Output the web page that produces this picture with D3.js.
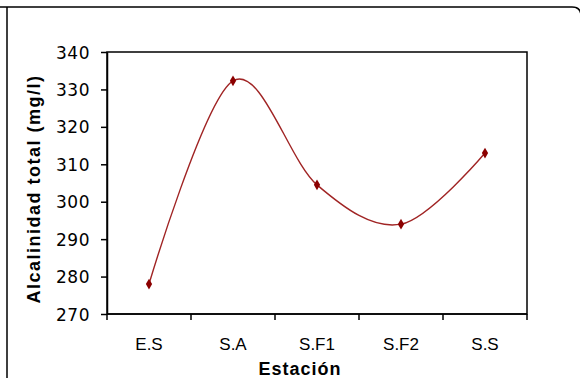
<!DOCTYPE html>
<html>
<head>
<meta charset="utf-8">
<script src="https://cdn.jsdelivr.net/npm/d3@7"></script>
<style>
  html, body { margin: 0; padding: 0; background: #fff; }
  svg { display: block; }
  text { font-family: "Liberation Sans", Arial, sans-serif; fill: #000; }
</style>
</head>
<body>
<svg id="chart" width="580" height="378"></svg>
<script>
// Sampling stations and total alkalinity (mg/l)
const estaciones = ["E.S", "S.A", "S.F1", "S.F2", "S.S"];
const alcalinidad = [278, 332.3, 304.5, 294, 313];
const yTicks = [270, 280, 290, 300, 310, 320, 330, 340];

const svg = d3.select("#chart");
const plot = { left: 107, top: 52, right: 527, bottom: 314 };

// Outer chart frame: square top-left, rounded top-right, runs past the bottom edge
svg.append("path")
  .attr("d", "M0,7 H572 Q581,7 581,16 V390 M7,7 V390")
  .attr("fill", "none")
  .attr("stroke", "#000")
  .attr("stroke-width", 1.5);

const x = d3.scaleBand().domain(estaciones).range([plot.left, plot.right]);
const y = d3.scaleLinear().domain([270, 340]).range([plot.bottom, plot.top]);

// Plot area border
svg.append("rect")
  .attr("x", plot.left).attr("y", plot.top)
  .attr("width", plot.right - plot.left).attr("height", plot.bottom - plot.top)
  .attr("fill", "none").attr("stroke", "#000").attr("stroke-width", 1.5);

// Y axis
const yAxis = svg.append("g")
  .attr("transform", `translate(${plot.left},0)`)
  .call(d3.axisLeft(y).tickValues(yTicks).tickSize(6).tickSizeOuter(0).tickPadding(11));
yAxis.select(".domain").attr("stroke-width", 1.5);
yAxis.selectAll(".tick line").attr("stroke-width", 1.5);
yAxis.selectAll(".tick text")
  .style("font-family", "'DejaVu Sans', sans-serif")
  .style("font-size", "17px")
  .style("letter-spacing", "0.5px")
  .attr("dy", "0.36em");

// X axis: ticks sit on the category boundaries
const xAxis = svg.append("g").attr("transform", `translate(0,${plot.bottom})`);
xAxis.append("line")
  .attr("x1", plot.left).attr("x2", plot.right)
  .attr("stroke", "#000").attr("stroke-width", 1.5);
const bounds = estaciones.map(d => x(d)).concat([x(estaciones[estaciones.length - 1]) + x.bandwidth()]);
xAxis.selectAll("line.tick").data(bounds).join("line")
  .attr("class", "tick")
  .attr("x1", d => d).attr("x2", d => d)
  .attr("y1", 0).attr("y2", 6)
  .attr("stroke", "#000").attr("stroke-width", 1.5);
xAxis.selectAll("text").data(estaciones).join("text")
  .attr("x", d => x(d) + x.bandwidth() / 2)
  .attr("y", 36)
  .attr("text-anchor", "middle")
  .style("font-size", "17px")
  .text(d => d);

// Axis titles
svg.append("text")
  .attr("x", 300).attr("y", 375)
  .attr("text-anchor", "middle")
  .style("font-size", "18px").style("font-weight", "bold")
  .style("letter-spacing", "1px")
  .text("Estación");

svg.append("text")
  .attr("transform", "translate(40,189) rotate(-90)")
  .attr("text-anchor", "middle")
  .style("font-size", "18px").style("font-weight", "bold")
  .style("letter-spacing", "1.5px")
  .text("Alcalinidad total (mg/l)");

// Smoothed line
const pts = estaciones.map((d, i) => [x(d) + x.bandwidth() / 2, y(alcalinidad[i])]);
svg.append("path")
  .attr("d", d3.line().curve(d3.curveCardinal.tension(0))(pts))
  .attr("fill", "none")
  .attr("stroke", "#a02424")
  .attr("stroke-width", 1.4);

// Diamond markers
svg.selectAll("path.mk").data(pts).join("path")
  .attr("class", "mk")
  .attr("transform", d => `translate(${d[0]},${d[1]})`)
  .attr("d", d3.symbol(d3.symbolDiamond, 34)())
  .attr("fill", "#8b0000");
</script>
</body>
</html>
